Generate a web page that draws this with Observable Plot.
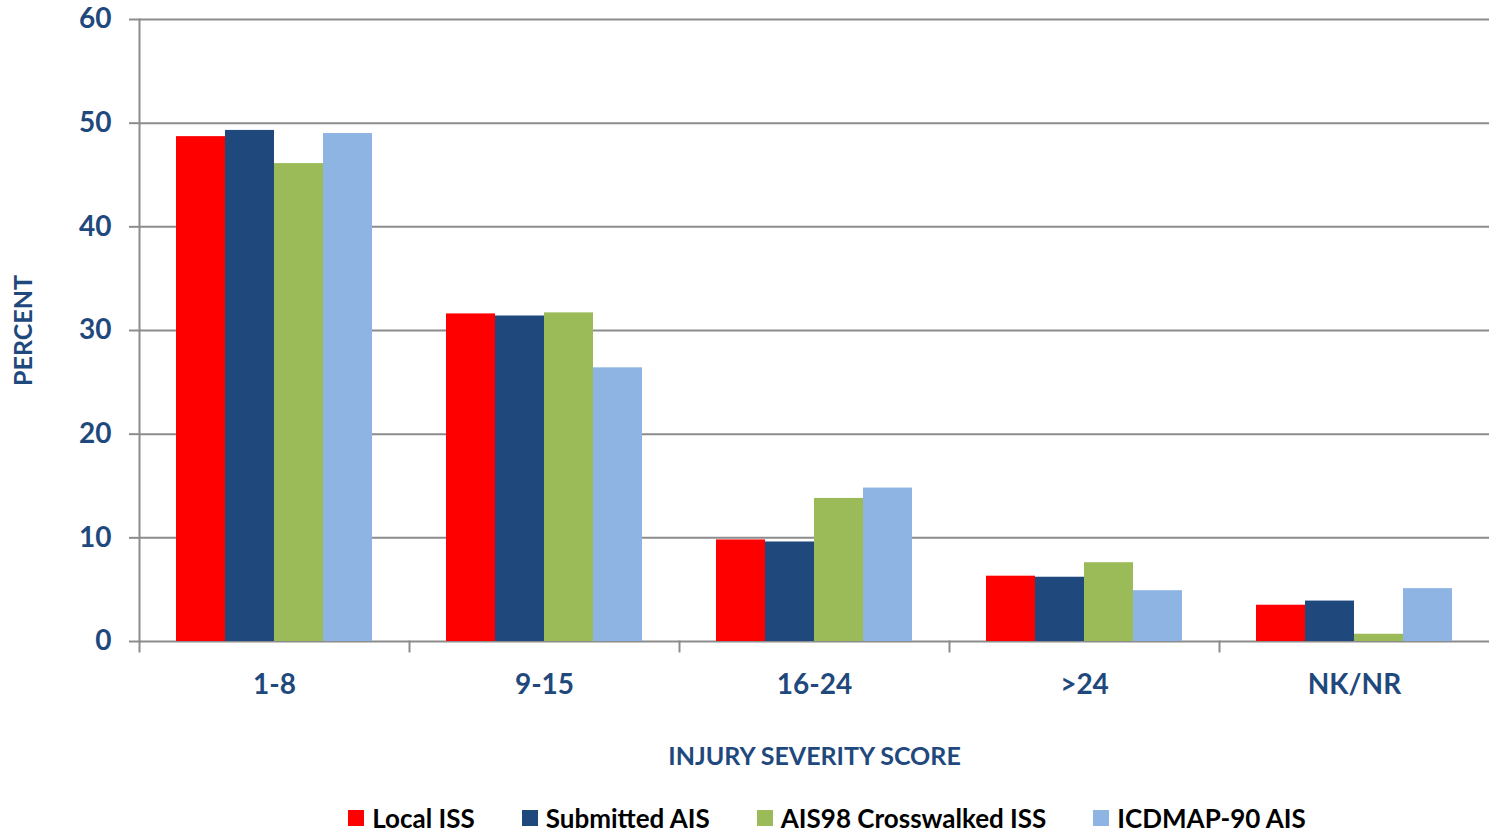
<!DOCTYPE html>
<html>
<head>
<meta charset="utf-8">
<script src="https://cdn.jsdelivr.net/npm/d3@7"></script>
<script src="https://cdn.jsdelivr.net/npm/@observablehq/plot@0.6"></script>
<style>
  html, body { margin: 0; padding: 0; background: #ffffff; }
  #chart svg { display: block; }
  #legend {
    display: flex; justify-content: center; align-items: center;
    height: 36px; margin-top: 10px; padding-left: 165px;
    font-family: Lato, "Open Sans", sans-serif; font-weight: bold; font-size: 26px; color: #000;
    gap: 47px;
  }
  .item { display: flex; align-items: center; gap: 8px; white-space: nowrap; }
  .sw { width: 16px; height: 16px; display: inline-block; }
</style>
</head>
<body>
<div id="chart"></div>
<div id="legend"></div>
<script>
const categories = ["1-8", "9-15", "16-24", ">24", "NK/NR"];
const series = ["Local ISS", "Submitted AIS", "AIS98 Crosswalked ISS", "ICDMAP-90 AIS"];
const localISS       = [48.7, 31.6,  9.8, 6.3, 3.5];
const submittedAIS   = [49.3, 31.4,  9.6, 6.2, 3.9];
const crosswalkedISS = [46.1, 31.7, 13.8, 7.6, 0.7];
const icdmapAIS      = [49.0, 26.4, 14.8, 4.9, 5.1];
const yTicks = [0, 10, 20, 30, 40, 50, 60];
const colors = ["#FF0000", "#1F497D", "#9BBB59", "#8EB4E3"];

const seriesValues = [localISS, submittedAIS, crosswalkedISS, icdmapAIS];
const data = categories.flatMap((c, i) =>
  series.map((s, j) => ({category: c, series: s, value: seriesValues[j][i]}))
);

const gridColor = "#8c8c8c";
const textColor = "#1F497D";

const chart = Plot.plot({
  width: 1489,
  height: 790,
  marginLeft: 138,
  marginRight: 0,
  marginTop: 19,
  marginBottom: 149,
  style: {fontFamily: "Lato, 'Open Sans', sans-serif", fontWeight: "bold", background: "#ffffff", color: textColor},
  fx: {domain: categories, padding: 0},
  x: {domain: series, paddingInner: 0, paddingOuter: 0.72, axis: null},
  y: {domain: [0, 60]},
  color: {domain: series, range: colors},
  marks: [
    Plot.gridY(yTicks, {stroke: gridColor, strokeWidth: 2, strokeOpacity: 1}),
    Plot.barY(data, {fx: "category", x: "series", y: "value", fill: "series"}),
    Plot.frame({anchor: "left", stroke: gridColor, strokeWidth: 2, insetTop: 622, insetBottom: -10}),
    Plot.frame({anchor: "left", facetAnchor: "left", stroke: gridColor, strokeWidth: 2}),
    Plot.axisY(yTicks, {anchor: "left", tickSize: 10, tickPadding: 18, fontSize: 28, stroke: gridColor, strokeWidth: 2, fill: textColor, label: null}),
    Plot.axisY([], {anchor: "left", tickSize: 0, fontSize: 25, fill: textColor, label: "PERCENT", labelAnchor: "center", labelArrow: "none", labelOffset: 125}),
    Plot.axisFx({anchor: "bottom", tickSize: 0, tickPadding: 33, fontSize: 28, fill: textColor, label: null}),
    Plot.axisFx([], {anchor: "bottom", tickSize: 0, fontSize: 25, fill: textColor, label: "INJURY SEVERITY SCORE", labelAnchor: "center", labelArrow: "none", labelOffset: 123})
  ]
});
document.getElementById("chart").appendChild(chart);

const legend = document.getElementById("legend");
series.forEach((s, i) => {
  const item = document.createElement("div");
  item.className = "item";
  const sw = document.createElement("span");
  sw.className = "sw";
  sw.style.background = colors[i];
  const t = document.createElement("span");
  t.textContent = s;
  item.appendChild(sw);
  item.appendChild(t);
  legend.appendChild(item);
});
</script>
</body>
</html>
